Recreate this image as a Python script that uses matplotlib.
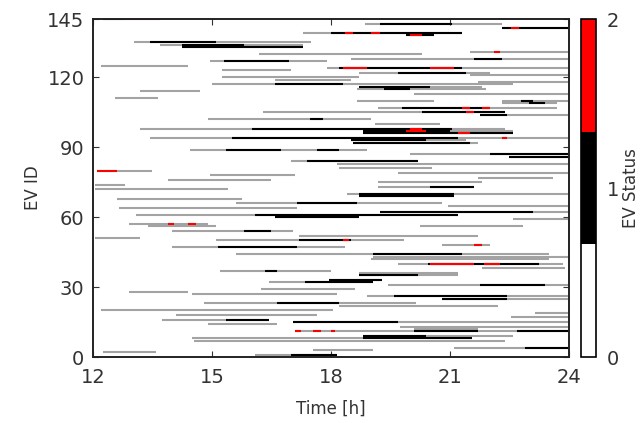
"""EV status timeline: connected / charging / overload per EV over the evening."""
import matplotlib

matplotlib.use("Agg")
import matplotlib.pyplot as plt
from matplotlib.colors import ListedColormap, Normalize
from matplotlib.cm import ScalarMappable

# (ev id, start hour, end hour) -- EV plugged in, idle (drawn grey)
connected = [
    (143, 18.85, 22.3), (141, 22.3, 24.0), (139, 17.3, 21.3), (135, 13.05, 17.5),
    (134, 13.7, 17.3), (131, 21.5, 24.0), (130, 16.2, 20.3), (128, 18.5, 24.0),
    (127, 14.95, 17.9), (125, 12.2, 14.4), (124, 17.9, 24.0), (123, 15.25, 17.0),
    (122, 18.7, 22.0), (121, 21.5, 24.0), (120, 15.25, 18.7), (119, 16.6, 18.5),
    (118, 21.7, 24.0), (117, 15.0, 22.6), (116, 18.7, 21.8), (115, 18.65, 21.9),
    (114, 13.2, 14.7), (113, 20.1, 24.0), (111, 12.55, 13.65), (110, 18.65, 20.6),
    (110, 22.3, 24.0), (109, 22.3, 23.7), (107, 19.2, 23.7), (105, 16.3, 22.4),
    (104, 21.75, 24.0), (102, 14.9, 19.0), (100, 19.1, 20.75), (98, 13.2, 22.4),
    (97, 18.8, 22.6), (96, 18.8, 22.6), (94, 13.45, 24.0), (93, 18.5, 21.4),
    (92, 18.55, 21.7), (89, 14.45, 18.9), (87, 20.0, 24.0), (86, 22.5, 24.0),
    (84, 17.0, 20.2), (83, 18.15, 24.0), (81, 18.2, 20.55), (80, 12.1, 13.5),
    (79, 19.7, 24.0), (78, 14.95, 17.1), (77, 21.7, 23.6), (76, 13.9, 16.5),
    (75, 19.2, 21.8), (74, 12.05, 12.8), (73, 19.2, 21.6), (72, 12.05, 15.4),
    (70, 18.4, 24.0), (69, 18.7, 21.1), (68, 12.6, 15.75), (66, 15.6, 20.8),
    (65, 20.95, 24.0), (64, 12.65, 17.15), (62, 19.25, 24.0), (61, 13.1, 21.2),
    (60, 16.6, 18.7), (59, 22.6, 24.0), (57, 12.9, 14.9), (56, 13.4, 15.1),
    (56, 20.25, 22.85), (54, 14.0, 17.05), (52, 17.2, 21.7), (51, 12.05, 13.2),
    (50, 15.1, 19.85), (48, 20.8, 22.0), (47, 14.0, 18.35), (44, 15.6, 23.5),
    (43, 19.05, 24.0), (42, 19.0, 23.5), (40, 19.7, 23.85), (38, 21.8, 23.9),
    (37, 15.2, 18.0), (36, 18.7, 21.2), (35, 18.7, 21.2), (33, 17.95, 19.3),
    (32, 16.45, 19.05), (31, 19.45, 24.0), (29, 16.25, 18.6), (28, 12.9, 14.4),
    (27, 14.5, 18.15), (26, 18.9, 24.0), (25, 20.8, 24.0), (23, 14.8, 20.15),
    (22, 18.2, 22.2), (20, 12.2, 18.05), (19, 23.15, 24.0), (18, 14.1, 17.65),
    (17, 22.55, 24.0), (16, 13.75, 16.45), (15, 17.05, 24.0), (14, 14.9, 16.65),
    (13, 19.75, 24.0), (12, 20.1, 21.7), (11, 17.1, 24.0), (9, 18.8, 22.6),
    (8, 14.5, 21.55), (7, 14.55, 22.4), (4, 21.1, 24.0), (3, 17.55, 19.05),
    (2, 12.25, 13.6), (1, 16.1, 18.15),
]

# status 1: charging (black)
charging = [
    (145, 12.25, 12.75), (143, 19.25, 21.05), (141, 22.3, 24.0), (139, 18.0, 21.3),
    (138, 19.9, 20.6), (135, 13.45, 15.1), (134, 14.25, 15.8), (133, 14.25, 17.3),
    (128, 21.6, 22.3), (127, 15.3, 16.95), (124, 18.2, 21.3), (122, 19.7, 21.4),
    (117, 16.6, 18.3), (116, 18.7, 20.5), (115, 19.35, 20.0), (110, 22.8, 23.1),
    (109, 23.0, 23.4), (107, 19.8, 22.0), (105, 20.3, 22.4), (104, 21.75, 22.45),
    (102, 17.47, 17.8), (98, 16.0, 21.05), (97, 18.8, 21.0), (96, 18.8, 22.6),
    (94, 15.5, 21.2), (93, 18.5, 20.4), (92, 18.55, 21.5), (89, 15.35, 16.75),
    (89, 17.65, 18.2), (87, 22.0, 24.0), (86, 22.5, 24.0), (84, 17.4, 20.2),
    (73, 20.5, 21.6), (70, 18.7, 21.1), (69, 18.7, 21.1), (66, 17.15, 18.65),
    (62, 19.25, 23.1), (61, 16.1, 21.2), (60, 16.6, 18.7), (54, 15.8, 16.5),
    (50, 17.2, 18.5), (47, 15.15, 17.15), (44, 19.05, 21.3), (40, 20.45, 23.25),
    (37, 16.35, 16.65), (35, 18.7, 20.2), (33, 17.95, 19.3), (32, 17.35, 19.05),
    (31, 21.75, 23.4), (26, 19.6, 22.45), (25, 20.8, 22.45), (23, 16.65, 18.2),
    (16, 15.35, 16.45), (15, 17.05, 19.7), (11, 20.1, 21.7), (11, 22.7, 24.0),
    (9, 18.8, 20.4), (8, 18.8, 21.55), (4, 22.9, 24.0), (1, 17.0, 18.15),
]

# status 2: overload (red)
overload = [
    (145, 12.75, 13.7), (141, 22.55, 22.75), (139, 18.35, 18.55), (139, 19.0, 19.25),
    (138, 20.0, 20.3), (131, 22.1, 22.25), (124, 18.3, 18.9), (124, 20.5, 21.1),
    (107, 21.3, 21.5), (107, 21.8, 22.0), (105, 21.4, 21.6), (98, 20.0, 20.3),
    (97, 19.9, 20.4), (96, 21.2, 21.5), (94, 22.3, 22.45), (80, 12.1, 12.6),
    (57, 13.9, 14.05), (57, 14.4, 14.6), (50, 18.3, 18.45), (48, 21.6, 21.8),
    (40, 20.5, 21.6), (40, 21.85, 22.25), (11, 17.1, 17.25), (11, 17.55, 17.75),
    (11, 18.0, 18.1),
]

x_ticks = [12, 15, 18, 21, 24]
y_ticks = [0, 30, 60, 90, 120, 145]
status_ticks = [0, 1, 2]
status_colors = ["white", "black", "red"]

fig = plt.figure(figsize=(6.4, 4.23), dpi=100)
ax = fig.add_axes([0.145, 0.156, 0.744, 0.799])

for spans, color in ((connected, "#a3a3a3"), (charging, "black"), (overload, "red")):
    ids = [s[0] for s in spans]
    starts = [s[1] for s in spans]
    ends = [s[2] for s in spans]
    ax.hlines(ids, starts, ends, colors=color, linewidth=1.5)

ax.set_xlim(12, 24)
ax.set_ylim(0, 145)
ax.set_xticks(x_ticks)
ax.set_yticks(y_ticks)
ax.tick_params(direction="in", top=True, right=True, labelsize=14, length=4,
               colors="#333333", labelcolor="#333333")
ax.tick_params(axis="x", pad=8)
ax.tick_params(axis="y", pad=6)
for spine in ax.spines.values():
    spine.set_linewidth(1.4)
    spine.set_color("#222222")
ax.set_xlabel("Time [h]", fontsize=12, color="#333333", labelpad=9)
ax.set_ylabel("EV ID", fontsize=12, color="#333333", labelpad=4)

cax = fig.add_axes([0.908, 0.156, 0.023, 0.799])
sm = ScalarMappable(norm=Normalize(0, 2), cmap=ListedColormap(status_colors))
cbar = fig.colorbar(sm, cax=cax, ticks=status_ticks)
cbar.outline.set_linewidth(1.2)
cbar.ax.tick_params(length=0, labelsize=14, labelcolor="#333333", pad=8)
cbar.set_label("EV Status", fontsize=12, color="#333333", labelpad=2)

fig.savefig("out.png", dpi=100)
